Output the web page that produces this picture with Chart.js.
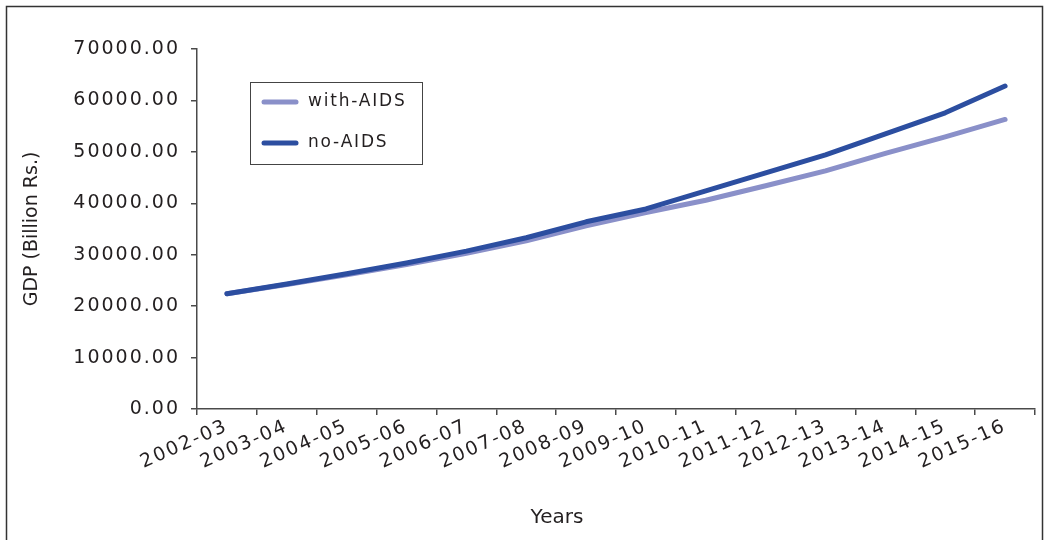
<!DOCTYPE html>
<html>
<head>
<meta charset="utf-8">
<title>GDP with and without AIDS</title>
<script src="https://cdn.jsdelivr.net/npm/chart.js@4/dist/chart.umd.min.js"></script>
<style>
  html, body { margin: 0; padding: 0; background: #ffffff; }
  #wrap { width: 1049px; height: 540px; position: relative; }
</style>
</head>
<body>
<div id="wrap"><canvas id="gdp" width="1049" height="540"></canvas></div>
<script>
// Fiscal years
const years = ['2002-03', '2003-04', '2004-05', '2005-06', '2006-07', '2007-08', '2008-09',
               '2009-10', '2010-11', '2011-12', '2012-13', '2013-14', '2014-15', '2015-16'];

// GDP, billion Rs.
const withAids = [22400, 24200, 26100, 28100, 30300, 32700, 35600,
                  38200, 40600, 43400, 46300, 49700, 52900, 56300];
const noAids   = [22400, 24300, 26300, 28400, 30700, 33300, 36400,
                  38900, 42400, 45900, 49400, 53500, 57600, 62800];

// Value axis ticks
const yTickValues = [0, 10000, 20000, 30000, 40000, 50000, 60000, 70000];

const seriesNames = ['with-AIDS', 'no-AIDS'];
const xTitle = 'Years';
const yTitle = 'GDP (Billion Rs.)';

const INK = '#231f20';
const AXIS = '#4a4a4a';
const FONT = '"DejaVu Sans", Verdana, sans-serif';
const TRACKING = '2px';

// Tick labels are set with slightly open tracking
const trackedLabels = {
  id: 'trackedLabels',
  afterUpdate(chart) {
    Object.values(chart.scales).forEach(s => {
      if (s._tracked) return;
      const draw = s.drawLabels;
      s.drawLabels = function (area) {
        const ctx = this.ctx;
        const prev = ctx.letterSpacing;
        ctx.letterSpacing = TRACKING;
        draw.call(this, area);
        ctx.letterSpacing = prev || '0px';
      };
      s._tracked = true;
    });
  }
};

// Thin frame round the whole figure
const frame = {
  id: 'frame',
  beforeDraw(chart) {
    const ctx = chart.ctx;
    ctx.save();
    ctx.strokeStyle = '#333333';
    ctx.lineWidth = 1.5;
    ctx.strokeRect(6.5, 6.5, chart.width - 13, chart.height + 40);
    ctx.restore();
  }
};

// Boxed legend inside the plot area, plus the horizontal axis title
const boxLegend = {
  id: 'boxLegend',
  afterDraw(chart) {
    const ctx = chart.ctx;
    const area = chart.chartArea;
    const bx = area.left + 53, by = area.top + 33, bw = 172, bh = 82;
    ctx.save();
    ctx.strokeStyle = '#444444';
    ctx.lineWidth = 1;
    ctx.strokeRect(bx + 0.5, by + 0.5, bw, bh);
    ctx.font = '17px ' + FONT;
    ctx.fillStyle = INK;
    ctx.textBaseline = 'middle';
    ctx.textAlign = 'left';
    ctx.letterSpacing = '1.8px';
    chart.data.datasets.forEach((ds, i) => {
      const ry = by + 20 + i * 41;
      ctx.strokeStyle = ds.borderColor;
      ctx.lineWidth = 5;
      ctx.lineCap = 'round';
      ctx.beginPath();
      ctx.moveTo(bx + 14, ry);
      ctx.lineTo(bx + 46, ry);
      ctx.stroke();
      ctx.fillText(ds.label, bx + 58, ry);
    });
    ctx.letterSpacing = '0px';
    ctx.font = '20px ' + FONT;
    ctx.textAlign = 'center';
    ctx.fillText(xTitle, area.left + 360, area.bottom + 109);
    ctx.restore();
  }
};

new Chart(document.getElementById('gdp'), {
  type: 'line',
  data: {
    labels: years,
    datasets: [
      {
        label: seriesNames[0],
        data: withAids,
        borderColor: '#8a90c9',
        backgroundColor: '#8a90c9',
        borderWidth: 5,
        order: 1
      },
      {
        label: seriesNames[1],
        data: noAids,
        borderColor: '#2c4ea0',
        backgroundColor: '#2c4ea0',
        borderWidth: 5,
        order: 0
      }
    ]
  },
  options: {
    responsive: false,
    animation: false,
    devicePixelRatio: 1,
    layout: { padding: { left: 14, right: 14, top: 49, bottom: 10 } },
    elements: {
      point: { radius: 0, hoverRadius: 0 },
      line: { tension: 0, borderCapStyle: 'round', borderJoinStyle: 'round', fill: false }
    },
    plugins: {
      legend: { display: false },
      tooltip: { enabled: false },
      title: { display: false }
    },
    scales: {
      x: {
        type: 'category',
        offset: true,
        grid: {
          offset: true,
          drawOnChartArea: false,
          drawTicks: true,
          tickLength: 6,
          color: AXIS,
          lineWidth: 1.5
        },
        border: { display: true, color: AXIS, width: 1.5 },
        ticks: {
          autoSkip: false,
          minRotation: 24,
          maxRotation: 24,
          padding: 0,
          color: INK,
          font: { family: FONT, size: 19 }
        },
        afterFit(scale) { scale.height = 121; }
      },
      y: {
        min: 0,
        max: 70000,
        afterBuildTicks(scale) { scale.ticks = yTickValues.map(v => ({ value: v })); },
        grid: {
          drawOnChartArea: false,
          drawTicks: true,
          tickLength: 6,
          color: AXIS,
          lineWidth: 1.5
        },
        border: { display: true, color: AXIS, width: 1.5 },
        ticks: {
          padding: 11,
          color: INK,
          font: { family: FONT, size: 19 },
          callback: v => Number(v).toFixed(2)
        },
        title: {
          display: true,
          text: yTitle,
          color: INK,
          padding: { top: 7, bottom: 0 },
          font: { family: FONT, size: 19 }
        },
        afterFit(scale) { scale.width = 183; }
      }
    }
  },
  plugins: [trackedLabels, frame, boxLegend]
});
</script>
</body>
</html>
